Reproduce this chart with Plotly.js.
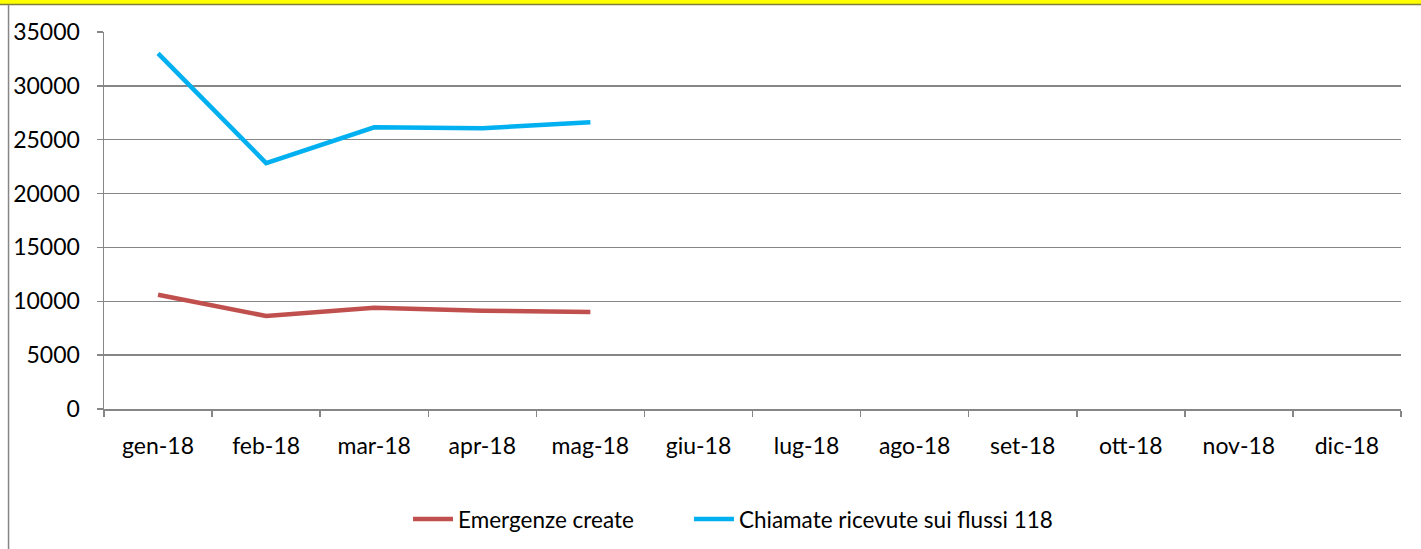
<!DOCTYPE html>
<html>
<head>
<meta charset="utf-8">
<script src="https://cdn.plot.ly/plotly-3.0.1.min.js"></script>
<style>
html,body{margin:0;padding:0;background:#fff;}
#chart{width:1421px;height:549px;}
</style>
</head>
<body>
<div id="chart"></div>
<script>
var months = ['gen-18','feb-18','mar-18','apr-18','mag-18','giu-18','lug-18','ago-18','set-18','ott-18','nov-18','dic-18'];
var emergenzeCreate = [10610, 8630, 9400, 9130, 9010];
var chiamateRicevute = [33020, 22830, 26150, 26060, 26620];
var seriesNames = ['Emergenze create', 'Chiamate ricevute sui flussi 118'];
var seriesColors = ['#C0504D', '#00B0F0'];

var FONT = 'Lato, "Open Sans", sans-serif';

var traces = [
  {x: months.slice(0, emergenzeCreate.length), y: emergenzeCreate, name: seriesNames[0],
   type: 'scatter', mode: 'lines', line: {color: seriesColors[0], width: 4.5}, legend: 'legend'},
  {x: months.slice(0, chiamateRicevute.length), y: chiamateRicevute, name: seriesNames[1],
   type: 'scatter', mode: 'lines', line: {color: seriesColors[1], width: 4.5}, legend: 'legend2'}
];

var legendFont = {family: FONT, size: 22.5, color: '#000'};

var layout = {
  width: 1421, height: 549,
  margin: {l: 104, r: 20, t: 32, b: 140, autoexpand: false},
  paper_bgcolor: '#ffffff', plot_bgcolor: '#ffffff',
  font: {family: FONT, size: 23, color: '#000000'},
  showlegend: true,
  legend: {orientation: 'h', x: 0.2344, xanchor: 'left', yref: 'container', y: 0.054, yanchor: 'middle',
           font: legendFont, itemwidth: 40},
  legend2: {orientation: 'h', x: 0.451, xanchor: 'left', yref: 'container', y: 0.054, yanchor: 'middle',
           font: legendFont, itemwidth: 40},
  xaxis: {type: 'category', categoryorder: 'array', categoryarray: months,
          tickvals: months, range: [-0.5, 11.5], automargin: false,
          showgrid: false, zeroline: false, showline: true, linecolor: '#868686', linewidth: 1.5,
          ticks: 'outside', tickson: 'boundaries', ticklen: 6, tickcolor: '#868686', tickwidth: 1.5,
          ticklabelstandoff: 16, tickfont: {family: FONT, size: 23, color: '#000'}, fixedrange: true},
  yaxis: {range: [0, 35000], dtick: 5000, tick0: 0, tickformat: 'd', automargin: false,
          showgrid: true, gridcolor: '#868686', gridwidth: 1.5,
          zeroline: false, showline: true, linecolor: '#868686', linewidth: 1.5,
          ticks: 'outside', ticklen: 6, tickcolor: '#868686', tickwidth: 1.5,
          ticklabelstandoff: 12, tickfont: {family: FONT, size: 23, color: '#000'}, fixedrange: true},
  shapes: [
    {type: 'rect', xref: 'paper', yref: 'paper', x0: -0.09, x1: 1.02, y0: 1.0742, y1: 1.09,
     fillcolor: '#FFFF00', line: {width: 0}, layer: 'above'},
    {type: 'line', xref: 'paper', yref: 'paper', x0: -0.09, x1: 1.02, y0: 1.0729, y1: 1.0729,
     line: {color: '#7F7F3F', width: 1.5}, layer: 'above'},
    {type: 'line', xref: 'paper', yref: 'paper', x0: -0.0736, x1: -0.0736, y0: -0.4, y1: 1.072,
     line: {color: '#868686', width: 1.5}, layer: 'above'}
  ]
};

Plotly.newPlot('chart', traces, layout, {staticPlot: true, displayModeBar: false});
</script>
</body>
</html>
